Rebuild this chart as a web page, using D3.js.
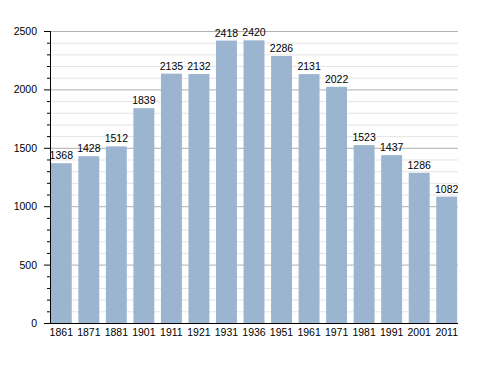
<!DOCTYPE html>
<html>
<head>
<meta charset="utf-8">
<script src="https://cdn.jsdelivr.net/npm/d3@7"></script>
<style>
body { margin: 0; background: #fff; }
text { font-family: "Liberation Sans", Arial, sans-serif; }
</style>
</head>
<body>
<script>
var years = ["1861","1871","1881","1901","1911","1921","1931","1936","1951","1961","1971","1981","1991","2001","2011"];
var population = [1368,1428,1512,1839,2135,2132,2418,2420,2286,2131,2022,1523,1437,1286,1082];
var yTicks = [0,500,1000,1500,2000,2500];

var W = 488, H = 373;
var margin = {top: 31, right: 30, bottom: 50, left: 50},
    width = W - margin.left - margin.right,
    height = H - margin.top - margin.bottom;

var svg = d3.select("body").append("svg")
    .attr("width", W)
    .attr("height", H)
  .append("g")
    .attr("transform", "translate(" + margin.left + "," + margin.top + ")");

var x = d3.scaleBand().domain(years).range([0, width]).paddingInner(0.24).paddingOuter(0.03);
var y = d3.scaleLinear().domain([0, 2500]).range([height, 0]);

// minor grid every 100
var minor = d3.range(100, 2501, 100).filter(function(v){ return v % 500 !== 0; });
svg.selectAll("line.minor").data(minor).enter().append("line")
    .attr("x1", 0).attr("x2", width)
    .attr("y1", function(d){ return y(d) + 0.5; }).attr("y2", function(d){ return y(d) + 0.5; })
    .attr("stroke", "#e4e4e4");

svg.selectAll("line.major").data(yTicks.slice(1)).enter().append("line")
    .attr("x1", 0).attr("x2", width)
    .attr("y1", function(d){ return y(d) + 0.5; }).attr("y2", function(d){ return y(d) + 0.5; })
    .attr("stroke", "#b0b0b0");

// bars
svg.selectAll("rect.bar").data(population).enter().append("rect")
    .attr("x", function(d, i){ return x(years[i]); })
    .attr("y", function(d){ return y(d); })
    .attr("width", x.bandwidth())
    .attr("height", function(d){ return height - y(d); })
    .attr("fill", "#9bb4cf");

// value labels
svg.selectAll("text.val").data(population).enter().append("text")
    .attr("x", function(d, i){ return x(years[i]) + x.bandwidth() / 2; })
    .attr("y", function(d){ return y(d) - 4; })
    .attr("text-anchor", "middle")
    .attr("font-size", "10.5px")
    .text(function(d){ return d; });

// y axis with minor ticks
svg.selectAll("line.mt").data(d3.range(0, 2501, 100)).enter().append("line")
    .attr("x1", function(d){ return d % 500 === 0 ? -6 : -3; }).attr("x2", 0)
    .attr("y1", function(d){ return y(d) + 0.5; }).attr("y2", function(d){ return y(d) + 0.5; })
    .attr("stroke", "#000");

svg.append("line")
    .attr("x1", 0.5).attr("x2", 0.5).attr("y1", 0).attr("y2", height)
    .attr("stroke", "#000");

svg.selectAll("text.yl").data(yTicks).enter().append("text")
    .attr("x", -13)
    .attr("y", function(d){ return y(d) + 4; })
    .attr("text-anchor", "end")
    .attr("font-size", "10.5px")
    .text(function(d){ return d; });

// x axis
svg.append("line")
    .attr("x1", 0).attr("x2", width).attr("y1", height + 0.5).attr("y2", height + 0.5)
    .attr("stroke", "#000");

svg.selectAll("text.xl").data(years).enter().append("text")
    .attr("x", function(d){ return x(d) + x.bandwidth() / 2; })
    .attr("y", height + 13)
    .attr("text-anchor", "middle")
    .attr("font-size", "10.5px")
    .text(function(d){ return d; });
</script>
</body>
</html>
